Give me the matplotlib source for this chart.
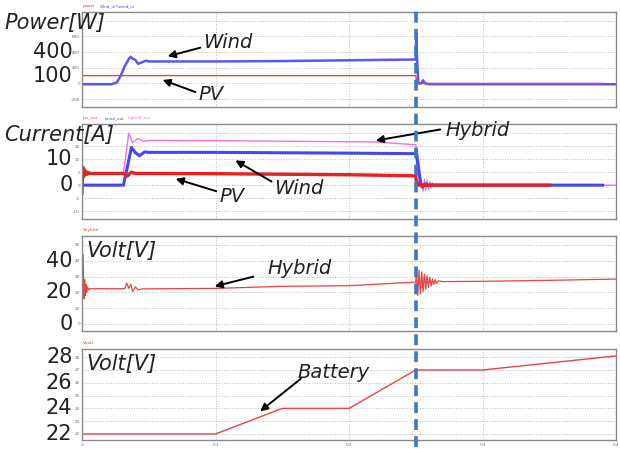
import matplotlib
matplotlib.use("Agg")
import matplotlib.pyplot as plt
from matplotlib.lines import Line2D

W, H = 620, 449

# ---- power panel [W] ----
t_pv_power = [0, 0.25, 0.2505, 0.252, 0.39]
pv_power = [100, 100, 40, 0, 0]
t_wind_power = [0, 0.022, 0.026, 0.029, 0.032, 0.035, 0.0365, 0.038, 0.040, 0.042,
                0.045, 0.048, 0.05, 0.1, 0.15, 0.2, 0.25, 0.2504, 0.2510, 0.2520,
                0.2540, 0.2555, 0.2570, 0.26, 0.4]
wind_power = [-10, -10, 10, 100, 220, 310, 340, 315, 300, 250,
              270, 290, 280, 280, 285, 295, 305, 640, 300, 0,
              0, 40, 0, -10, -10]

# ---- current panel [A] ----
t_pv_cur = [0, 0.0005, 0.001, 0.0015, 0.002, 0.003, 0.004, 0.005, 0.006, 0.031,
            0.034, 0.037, 0.04, 0.1, 0.2, 0.25, 0.2503, 0.252, 0.35]
pv_cur = [-3, 7, 3, 6.2, 3.8, 5.3, 4.2, 4.8, 4.5, 4.5,
          3.5, 5.0, 4.5, 4.4, 4.0, 3.6, 2.0, 0, 0]
t_wind_cur = [0, 0.031, 0.034, 0.037, 0.040, 0.043, 0.047, 0.05, 0.1, 0.2, 0.25,
              0.2503, 0.2515, 0.2535, 0.2550, 0.2570, 0.26, 0.39]
wind_cur = [0, 0, 7, 14.5, 12.5, 11.3, 12.8, 12.6, 12.6, 12.3, 12.1,
            13.2, 8, 1, -0.8, 0.5, 0, 0]
t_hyb_cur = [0, 0.0005, 0.001, 0.0015, 0.002, 0.003, 0.005, 0.031, 0.033, 0.035,
             0.038, 0.042, 0.046, 0.05, 0.1, 0.22, 0.25, 0.2515, 0.2530, 0.2545,
             0.2555, 0.2565, 0.2575, 0.2585, 0.2595, 0.2605, 0.2615, 0.2625,
             0.2640, 0.2655, 0.2670, 0.2690, 0.2720, 0.4]
hyb_cur = [-5.5, 7, 3, 6.2, 3.8, 5.2, 4.5, 4.5, 12, 20,
           16.3, 18.0, 16.8, 17.2, 17.1, 16.6, 15.5, 12, 6, 1,
           -2.3, 2.2, -2.0, 1.8, -1.6, 1.3, -1.1, 0.9,
           -0.6, 0.5, -0.3, 0.2, 0, 0]

# ---- hybrid bus voltage [V] ----
t_vhyb = [0, 0.0008, 0.0015, 0.002, 0.0025, 0.003, 0.0035, 0.004, 0.005, 0.006,
          0.032, 0.0335, 0.035, 0.0365, 0.038, 0.040, 0.042, 0.045, 0.1, 0.15,
          0.2, 0.25, 0.2505, 0.2515, 0.2525, 0.2535, 0.2545, 0.2555, 0.2565,
          0.2575, 0.2585, 0.2595, 0.2605, 0.2615, 0.2625, 0.2635, 0.2645,
          0.2655, 0.2670, 0.2700, 0.3, 0.35, 0.4]
vhyb = [5, 44, 16, 28, 18, 25, 20, 23.5, 21.5, 22.3,
        22.3, 25.8, 22.5, 25.2, 20.5, 23.5, 21.5, 22.2, 22.5, 23.8,
        24.2, 26.5, 35, 18, 34, 19, 33, 20.5, 31.5,
        22, 30.5, 23, 29.5, 24, 28.5, 25, 28,
        25.5, 27.3, 26.8, 27.0, 27.6, 28.4]

# ---- battery voltage [V] ----
t_vbat = [0, 0.1, 0.15, 0.2, 0.25, 0.3, 0.4]
vbat = [22, 22, 24, 24, 27, 27, 28.1]

t_switch = 0.25
x_ticks = [0, 0.1, 0.2, 0.3, 0.4]
x_ticklabels = ["0", "0.1", "0.2", "0.3", "0.4"]

RED = "#ee4040"
BLUE = "#4646f0"
MAGENTA = "#f070f0"
FONT = "DejaVu Sans"

fig = plt.figure(figsize=(W / 100, H / 100), dpi=100)


def px_axes(top, bottom):
    return fig.add_axes([82 / W, 1 - bottom / H, 534 / W, (bottom - top) / H])


def style(ax, ylim, yticks, ylabels, show_x=False):
    ax.set_xlim(0, 0.4)
    ax.set_ylim(*ylim)
    ax.set_xticks(x_ticks)
    ax.set_yticks(yticks)
    ax.set_yticklabels(ylabels)
    if show_x:
        ax.set_xticklabels(x_ticklabels)
    else:
        ax.set_xticklabels([])
    ax.tick_params(length=0, labelsize=3, labelcolor="#666666", pad=1.5)
    ax.tick_params(axis="x", pad=2.5)
    ax.grid(True, color="#bbbbbb", linestyle=":", linewidth=0.7)
    ax.set_axisbelow(True)
    for s in ax.spines.values():
        s.set_color("#8a8a8a")
        s.set_linewidth(1.0)


def ftext(x, y, s, **kw):
    # x, y given in image pixels from the top-left corner
    fig.text(x / W, 1 - y / H, s, family=FONT, **kw)


def arrow(x0, y0, x1, y1):
    fig.add_artist(matplotlib.patches.FancyArrowPatch(
        (x0 / W, 1 - y0 / H), (x1 / W, 1 - y1 / H), transform=fig.transFigure,
        arrowstyle="-|>", mutation_scale=11, color="black", lw=1.4))


# panel 1: power
ax1 = px_axes(12, 107)
ax1.plot(t_wind_power, wind_power, color=BLUE, lw=1.8, alpha=0.9)
ax1.plot(t_pv_power, pv_power, color=RED, lw=1.0)
style(ax1, (-300, 910), [-200, 0, 200, 400, 600, 800],
      ["-200", "0", "200", "400", "600", ""])

# panel 2: current
ax2 = px_axes(124, 219)
ax2.plot(t_hyb_cur, hyb_cur, color=MAGENTA, lw=1.0)
ax2.plot(t_wind_cur, wind_cur, color=BLUE, lw=2.2)
ax2.plot(t_pv_cur, pv_cur, color="#e82020", lw=2.4)
style(ax2, (-13, 23.5), [-10, -5, 0, 5, 10, 15, 20],
      ["-10", "-5", "0", "5", "10", "15", ""])

# panel 3: hybrid bus voltage
ax3 = px_axes(236, 331)
ax3.plot(t_vhyb, vhyb, color=RED, lw=0.9)
style(ax3, (-4.5, 55.7), [0, 10, 20, 30, 40, 50],
      ["0", "10", "20", "30", "40", "50"])

# panel 4: battery voltage
ax4 = px_axes(349, 440)
ax4.plot(t_vbat, vbat, color=RED, lw=1.0)
style(ax4, (21.53, 28.64), [22, 23, 24, 25, 26, 27, 28],
      ["22", "23", "24", "25", "26", "27", "28"], show_x=True)

# small signal names above each panel
ftext(83, 6, "power", fontsize=3, color=RED, va="center")
ftext(100, 6, "Wind_in*Iwind_in", fontsize=3, color=BLUE, va="center")
ftext(83, 118, "Ipv_out", fontsize=3, color=RED, va="center")
ftext(105, 118, "Iwind_out", fontsize=3, color=BLUE, va="center")
ftext(128, 118, "Ihybrid_out", fontsize=3, color=MAGENTA, va="center")
ftext(83, 230, "Vhybrid", fontsize=3, color=RED, va="center")
ftext(83, 343, "Vbatt", fontsize=3, color=RED, va="center")

# big axis annotations
big = dict(fontsize=15, color="#222222", va="center", fontweight="light")
ftext(4, 23, "Power[W]", style="italic", **big)
ftext(4, 135, "Current[A]", style="italic", **big)
ftext(86, 251, "Volt[V]", style="italic", **big)
ftext(86, 364, "Volt[V]", style="italic", **big)

for ax, vals in [(ax1, [400, 100]), (ax2, [10, 0]), (ax3, [40, 20, 0]),
                 (ax4, [28, 26, 24, 22])]:
    tr = matplotlib.transforms.blended_transform_factory(ax.transAxes, ax.transData)
    for v in vals:
        ax.text(-0.018, v, str(v), transform=tr, ha="right", va="center",
                fontsize=15, color="#222222", family=FONT, clip_on=False)

word = dict(fontsize=14, color="#222222", va="center", style="italic")
ftext(203, 43, "Wind", **word)
arrow(203, 47, 165, 57)
ftext(198, 95, "PV", **word)
arrow(198, 93, 160, 79)
ftext(445, 131, "Hybrid", **word)
arrow(443, 129, 373, 141)
ftext(274, 188, "Wind", **word)
arrow(274, 183, 233, 159)
ftext(219, 197, "PV", **word)
arrow(219, 192, 173, 178)
ftext(267, 268, "Hybrid", **word)
arrow(256, 276, 212, 287)
ftext(297, 372, "Battery", **word)
arrow(303, 377, 258, 413)

# switching instant marker through all panels
xs = fig.transFigure.inverted().transform(ax4.transData.transform((t_switch, 0)))[0]
fig.add_artist(Line2D([xs, xs], [1 - 447 / H, 1 - 7 / H], transform=fig.transFigure,
                      color="#3b78c0", lw=2.6, dashes=(3, 1.7)))

fig.savefig("out.png", dpi=100)
